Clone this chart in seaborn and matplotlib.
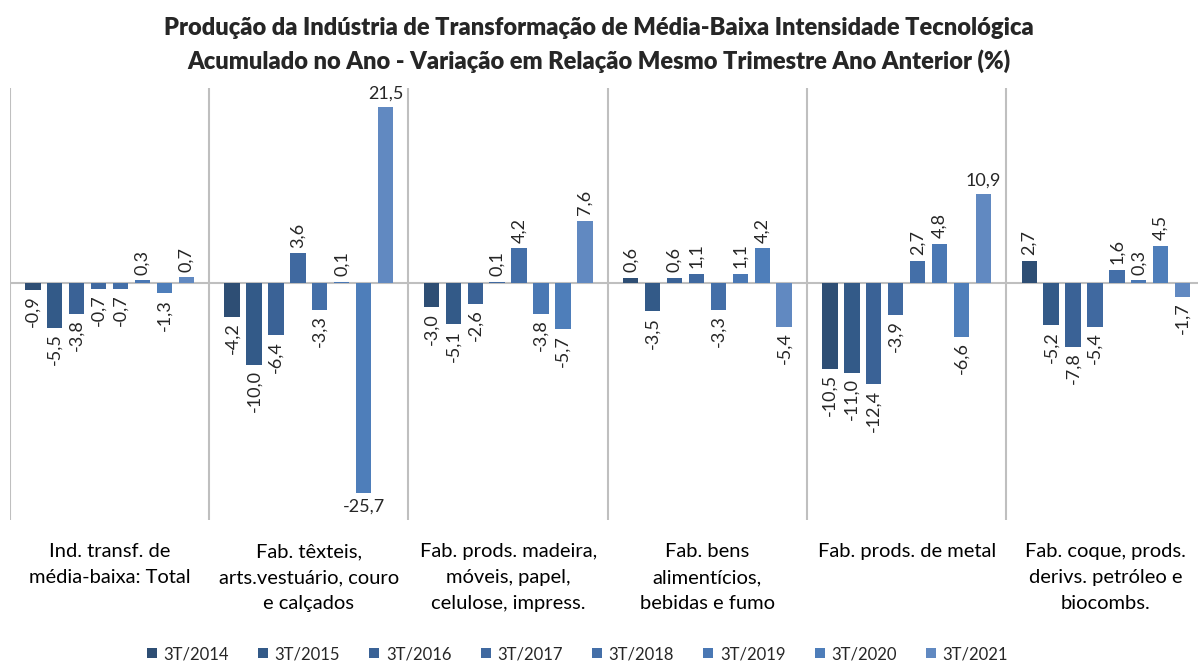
import numpy as np
import pandas as pd
import matplotlib
matplotlib.use('Agg')
import matplotlib.pyplot as plt
import seaborn as sns

# Data
categories = [
    'Ind. transf. de\nmédia-baixa: Total',
    'Fab. têxteis,\narts.vestuário, couro\ne calçados',
    'Fab. prods. madeira,\nmóveis, papel,\ncelulose, impress.',
    'Fab. bens\nalimentícios,\nbebidas e fumo',
    'Fab. prods. de metal',
    'Fab. coque, prods.\nderivs. petróleo e\nbiocombs.',
]
series = ['3T/2014', '3T/2015', '3T/2016', '3T/2017',
          '3T/2018', '3T/2019', '3T/2020', '3T/2021']

v_2014 = [-0.9, -4.2, -3.0, 0.6, -10.5, 2.7]
v_2015 = [-5.5, -10.0, -5.1, -3.5, -11.0, -5.2]
v_2016 = [-3.8, -6.4, -2.6, 0.6, -12.4, -7.8]
v_2017 = [-0.7, 3.6, 0.1, 1.1, -3.9, -5.4]
v_2018 = [-0.7, -3.3, 4.2, -3.3, 2.7, 1.6]
v_2019 = [0.3, 0.1, -3.8, 1.1, 4.8, 0.3]
v_2020 = [-1.3, -25.7, -5.7, 4.2, -6.6, 4.5]
v_2021 = [0.7, 21.5, 7.6, -5.4, 10.9, -1.7]

values = [v_2014, v_2015, v_2016, v_2017, v_2018, v_2019, v_2020, v_2021]

colors = ['#2E4E74', '#335A88', '#3A6296', '#4069A0',
          '#446FA8', '#4A78B4', '#4E7EBA', '#6189C1']

rows = []
for s, vals in zip(series, values):
    for c, v in zip(categories, vals):
        rows.append({'cat': c, 'serie': s, 'val': v})
df = pd.DataFrame(rows)

sns.set_style('white')
plt.rcParams['font.family'] = ['Lato', 'DejaVu Sans']

fig = plt.figure(figsize=(11.98, 6.69), dpi=100)
ax = fig.add_axes([0.0083, 0.223, 0.998, 0.645])

sns.barplot(data=df, x='cat', y='val', hue='serie', palette=colors,
            order=categories, hue_order=series, width=0.88, gap=0.3,
            saturation=1, linewidth=0, errorbar=None, ax=ax, legend=True)

ax.set_xlim(-0.5, 5.5)
ax.set_ylim(-29, 23.8)

# separators and zero line
grid_col = '#BFBFBF'
for x in np.arange(-0.5, 5.5, 1):
    ax.axvline(x, color=grid_col, lw=1.5, zorder=0)
ax.axhline(0, color=grid_col, lw=1.5, zorder=0)

for sp in ax.spines.values():
    sp.set_visible(False)
ax.set_yticks([])
ax.set_xlabel('')
ax.set_ylabel('')
ax.tick_params(axis='x', length=0, pad=17, labelsize=14.5, colors='#000000')
for lab in ax.get_xticklabels():
    lab.set_linespacing(1.62)
    lab.set_verticalalignment('top')

# data labels
for cont in ax.containers:
    for bar in cont:
        v = bar.get_height()
        x = bar.get_x() + bar.get_width() / 2
        txt = f'{v:.1f}'.replace('.', ',')
        horizontal = v > 10 or v < -20
        if horizontal:
            ax.annotate(txt, (x, v), xytext=(0, 4 if v > 0 else -4),
                        textcoords='offset points', ha='center',
                        va='bottom' if v > 0 else 'top', fontsize=13)
        else:
            ax.annotate(txt, (x, v), xytext=(0, 4 if v >= 0 else -4),
                        textcoords='offset points', ha='center',
                        va='bottom' if v >= 0 else 'top', rotation=90,
                        fontsize=13)

# legend
handles, labels = ax.get_legend_handles_labels()
ax.legend_.remove()
fig.legend(handles, labels, loc='lower center', bbox_to_anchor=(0.482, -0.012),
           ncol=8, frameon=False, fontsize=12, handlelength=0.6,
           handleheight=0.6, handletextpad=0.4, columnspacing=1.75)

fig.text(0.5, 0.958, 'Produção da Indústria de Transformação de Média-Baixa Intensidade Tecnológica',
         ha='center', va='center', fontsize=17, fontweight='heavy')
fig.text(0.5, 0.908, 'Acumulado no Ano - Variação em Relação Mesmo Trimestre Ano Anterior (%)',
         ha='center', va='center', fontsize=17, fontweight='heavy')

fig.savefig('out.png', dpi=100)
